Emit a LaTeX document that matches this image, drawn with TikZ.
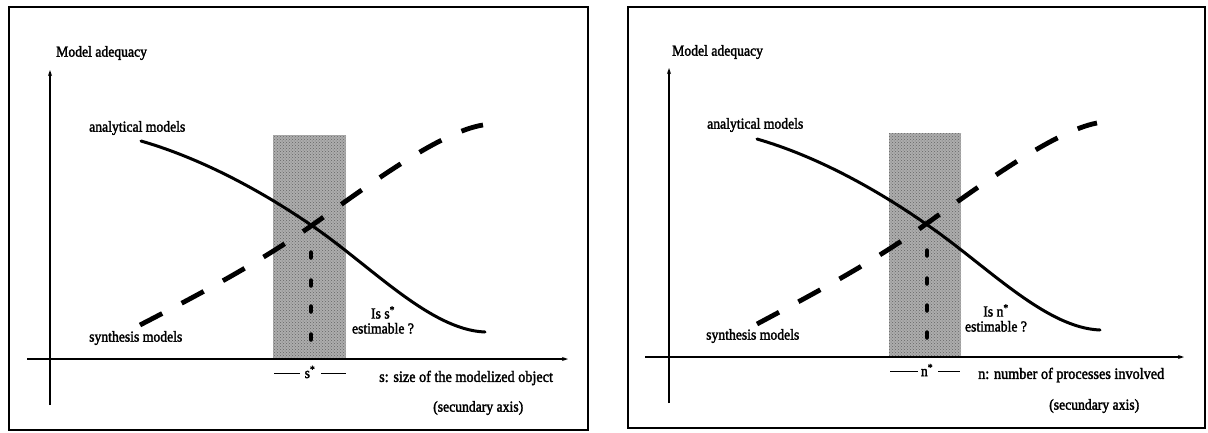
\documentclass[tikz,border=0pt]{standalone}
\usepackage{fontspec}
\setmainfont{Liberation Serif}
\newfontfamily\scanfont{Liberation Serif}[FakeBold=2,FakeStretch=0.9]
\usetikzlibrary{arrows.meta,patterns}
\begin{document}
\begin{tikzpicture}[x=1pt,y=-1pt,
  framebox/.style={draw=black,line width=1.4pt},
  axis/.style={draw=black,line width=1.1pt,-{Stealth[length=6pt,width=4pt]}},
  solidcurve/.style={draw=black,line width=3pt,line cap=round},
  dashcurve/.style={draw=black,line width=4.8pt,dash pattern=on 25pt off 22pt},
  dotmark/.style={draw=black,line width=4.5pt,line cap=round},
  tick/.style={draw=black,line width=0.9pt},
  lbl/.style={inner sep=0pt,font=\scanfont\fontsize{15.2}{15}\selectfont},
  axlbl/.style={inner sep=0pt,font=\scanfont\fontsize{15.8}{16}\selectfont}
]
\useasboundingbox (0,0) rectangle (1208,432);
\fill[white] (0,0) rectangle (1208,432);

% ================= left panel =================
\draw[framebox] (9,7) rectangle (588,430);
\fill[black!32] (273,135) rectangle (346,359);
\fill[pattern=crosshatch dots,pattern color=black!60] (273,135) rectangle (346,359);
\coordinate (yb1) at (50,405);
\coordinate (yt1) at (50,70);
\coordinate (xb1) at (27,359);
\coordinate (xe1) at (568,359);
\draw[axis] (yb1) -- (yt1);
\draw[axis] (xb1) -- (xe1);
\draw[solidcurve] (141,141) .. controls (200,158) and (260,190) .. (311,225)
                            .. controls (370,265) and (430,330) .. (485,332);
\draw[dashcurve] (140,325) .. controls (200,294) and (260,262) .. (311,226)
                           .. controls (370,184) and (440,132) .. (483,125);
\foreach \yy in {255,283,309,337} \draw[dotmark] (311,\yy-2.5) -- (311,\yy+2.5);
\node[lbl,anchor=west] (ma1) at (56,53) {Model adequacy};
\node[lbl,anchor=west] (an1) at (89,128) {analytical models};
\node[lbl,anchor=west] (sy1) at (89,338) {synthesis models};
\node[lbl,align=center] (is1) at (383,320) {Is s\textsuperscript{*}\\estimable ?};
\node[lbl] (sl1) at (310,372) {s\textsuperscript{*}};
\draw[tick] (274,373) -- (300,373);
\draw[tick] (321,373) -- (346,373);
\node[axlbl,anchor=west] (xl1) at (379,378) {s: size of the modelized object};
\node[lbl,anchor=west] (sa1) at (433,408) {(secundary axis)};

% ================= right panel =================
\draw[framebox] (628,7) rectangle (1205,428);
\fill[black!32] (889,133) rectangle (961,357);
\fill[pattern=crosshatch dots,pattern color=black!60] (889,133) rectangle (961,357);
\coordinate (yb2) at (669,403);
\coordinate (yt2) at (669,68);
\coordinate (xb2) at (645,357);
\coordinate (xe2) at (1184,357);
\draw[axis] (yb2) -- (yt2);
\draw[axis] (xb2) -- (xe2);
\draw[solidcurve] (757,139) .. controls (816,156) and (876,189) .. (926,224)
                            .. controls (985,264) and (1045,328) .. (1100,330);
\draw[dashcurve] (757,324) .. controls (815,293) and (875,261) .. (926,224)
                           .. controls (985,182) and (1055,131) .. (1097,123);
\foreach \yy in {253,281,308,335} \draw[dotmark] (927,\yy-2.5) -- (927,\yy+2.5);
\node[lbl,anchor=west] (ma2) at (672,52) {Model adequacy};
\node[lbl,anchor=west] (an2) at (707,125) {analytical models};
\node[lbl,anchor=west] (sy2) at (706,336) {synthesis models};
\node[lbl,align=center] (is2) at (996,318) {Is n\textsuperscript{*}\\estimable ?};
\node[lbl] (sl2) at (927,370) {n\textsuperscript{*}};
\draw[tick] (890,371) -- (918,371);
\draw[tick] (938,371) -- (960,371);
\node[axlbl,anchor=west] (xl2) at (978,375) {n: number of processes involved};
\node[lbl,anchor=west] (sa2) at (1049,406) {(secundary axis)};
\end{tikzpicture}
\end{document}
